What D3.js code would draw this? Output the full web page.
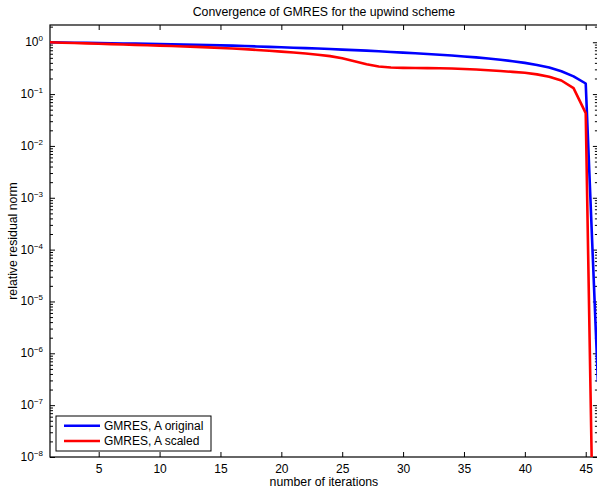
<!DOCTYPE html>
<html>
<head>
<meta charset="utf-8">
<script src="https://cdn.jsdelivr.net/npm/d3@7"></script>
<style>
  body { margin: 0; background: #fff; }
  svg { font-family: "Liberation Sans", Arial, Helvetica, sans-serif; }
</style>
</head>
<body>
<svg id="chart"></svg>
<script>
// Set up the SVG dimensions
const width = 597;
const height = 489;

const BLUE = "#0000ff";
const RED = "#ff0000";

// iterations 1..46
const iterations = d3.range(1, 47);

// GMRES, A original
const resOriginal = [
  1.00, 0.99, 0.98, 0.975, 0.965, 0.955, 0.945, 0.94, 0.93, 0.92,
  0.91, 0.90, 0.89, 0.88, 0.87, 0.86, 0.845, 0.83, 0.815, 0.80,
  0.785, 0.77, 0.755, 0.74, 0.72, 0.705, 0.69, 0.67, 0.65, 0.63,
  0.615, 0.595, 0.575, 0.555, 0.53, 0.51, 0.485, 0.46, 0.43, 0.40,
  0.365, 0.325, 0.275, 0.22, 0.16, 2.8e-7
];

// GMRES, A scaled
const resScaled = [
  1.00, 0.98, 0.965, 0.95, 0.935, 0.92, 0.905, 0.89, 0.875, 0.86,
  0.845, 0.83, 0.815, 0.795, 0.775, 0.755, 0.735, 0.71, 0.685, 0.66,
  0.635, 0.605, 0.575, 0.54, 0.49, 0.43, 0.375, 0.34, 0.325, 0.32,
  0.318, 0.316, 0.315, 0.312, 0.305, 0.297, 0.288, 0.278, 0.268, 0.257,
  0.24, 0.215, 0.183, 0.13, 0.043, 1e-15
];

const seriesNames = ["GMRES, A original", "GMRES, A scaled"];
const xTicks = [5, 10, 15, 20, 25, 30, 35, 40, 45];
const yExponents = [0, -1, -2, -3, -4, -5, -6, -7, -8];

const plot = { left: 50, right: 597.9, top: 25, bottom: 457 };

const svg = d3.select("#chart")
  .attr("width", width)
  .attr("height", height);

const x = d3.scaleLinear().domain([1, 46]).range([plot.left, plot.right]);
const y = d3.scaleLog().domain([1e-8, 2.15]).range([plot.bottom, plot.top]);

// minor ticks 2..9 per decade
const minorTicks = [];
for (let e = -8; e <= 0; e++) {
  for (let m = 2; m <= 9; m++) {
    const v = m * Math.pow(10, e);
    if (v <= 2.15) minorTicks.push(v);
  }
}
const majorTicks = yExponents.map(e => Math.pow(10, e));

// clip region for the data
svg.append("clipPath").attr("id", "clip")
  .append("rect")
  .attr("x", plot.left).attr("y", plot.top)
  .attr("width", plot.right - plot.left)
  .attr("height", plot.bottom - plot.top);

// axes
function styleAxis(g) {
  g.select(".domain").remove();
  g.selectAll(".tick line").attr("stroke", "#000");
  g.selectAll("text").attr("fill", "#000");
}

svg.append("g")
  .attr("transform", `translate(0,${plot.bottom})`)
  .call(d3.axisBottom(x).tickValues(xTicks).tickSize(-5).tickPadding(7))
  .call(styleAxis)
  .call(g => g.selectAll("text").attr("font-size", 12));

svg.append("g")
  .attr("transform", `translate(0,${plot.top})`)
  .call(d3.axisTop(x).tickValues(xTicks).tickSize(-5).tickFormat(""))
  .call(styleAxis);

[[d3.axisLeft, plot.left], [d3.axisRight, plot.right]].forEach(([axisFn, pos]) => {
  svg.append("g")
    .attr("transform", `translate(${pos},0)`)
    .call(axisFn(y).tickValues(majorTicks).tickSize(-5).tickFormat(""))
    .call(styleAxis);
  svg.append("g")
    .attr("transform", `translate(${pos},0)`)
    .call(axisFn(y).tickValues(minorTicks).tickSize(-3).tickFormat(""))
    .call(styleAxis);
});

// y tick labels with superscript exponent
const yLabels = svg.append("g").attr("font-size", 12).attr("text-anchor", "end");
yExponents.forEach(e => {
  const t = yLabels.append("text")
    .attr("x", 43)
    .attr("y", y(Math.pow(10, e)) + 4);
  t.append("tspan").text("10");
  t.append("tspan").attr("dy", -5).attr("font-size", 8).text(e === 0 ? "0" : "\u2212" + (-e));
});

// box
svg.append("rect")
  .attr("x", plot.left).attr("y", plot.top)
  .attr("width", plot.right - plot.left)
  .attr("height", plot.bottom - plot.top)
  .attr("fill", "none").attr("stroke", "#000").attr("stroke-width", 1.2);

// lines
const line = d3.line()
  .x((d, i) => x(iterations[i]))
  .y(d => y(d));

const series = [resOriginal, resScaled];
const colors = [BLUE, RED];

svg.append("g").attr("clip-path", "url(#clip)")
  .selectAll("path")
  .data(series)
  .enter()
  .append("path")
  .attr("d", line)
  .attr("fill", "none")
  .attr("stroke", (d, i) => colors[i])
  .attr("stroke-width", 2.6)
  .attr("stroke-linejoin", "round");

// title and axis labels
svg.append("text")
  .attr("x", (plot.left + plot.right) / 2).attr("y", 16)
  .attr("text-anchor", "middle").attr("font-size", 12.3)
  .text("Convergence of GMRES for the upwind scheme");

svg.append("text")
  .attr("x", (plot.left + plot.right) / 2).attr("y", 486)
  .attr("text-anchor", "middle").attr("font-size", 12.3)
  .text("number of iterations");

svg.append("text")
  .attr("transform", `translate(17,${(plot.top + plot.bottom) / 2}) rotate(-90)`)
  .attr("text-anchor", "middle").attr("font-size", 12.3)
  .text("relative residual norm");

// legend
const legend = svg.append("g");
legend.append("rect")
  .attr("x", 56).attr("y", 416)
  .attr("width", 155).attr("height", 35)
  .attr("fill", "#fff").attr("stroke", "#000").attr("stroke-width", 1);

seriesNames.forEach((name, i) => {
  const ly = 425.7 + i * 15.3;
  legend.append("line")
    .attr("x1", 64).attr("x2", 100)
    .attr("y1", ly).attr("y2", ly)
    .attr("stroke", colors[i]).attr("stroke-width", 2.6);
  legend.append("text")
    .attr("x", 104).attr("y", ly + 4)
    .attr("font-size", 12)
    .text(name);
});
</script>
</body>
</html>
